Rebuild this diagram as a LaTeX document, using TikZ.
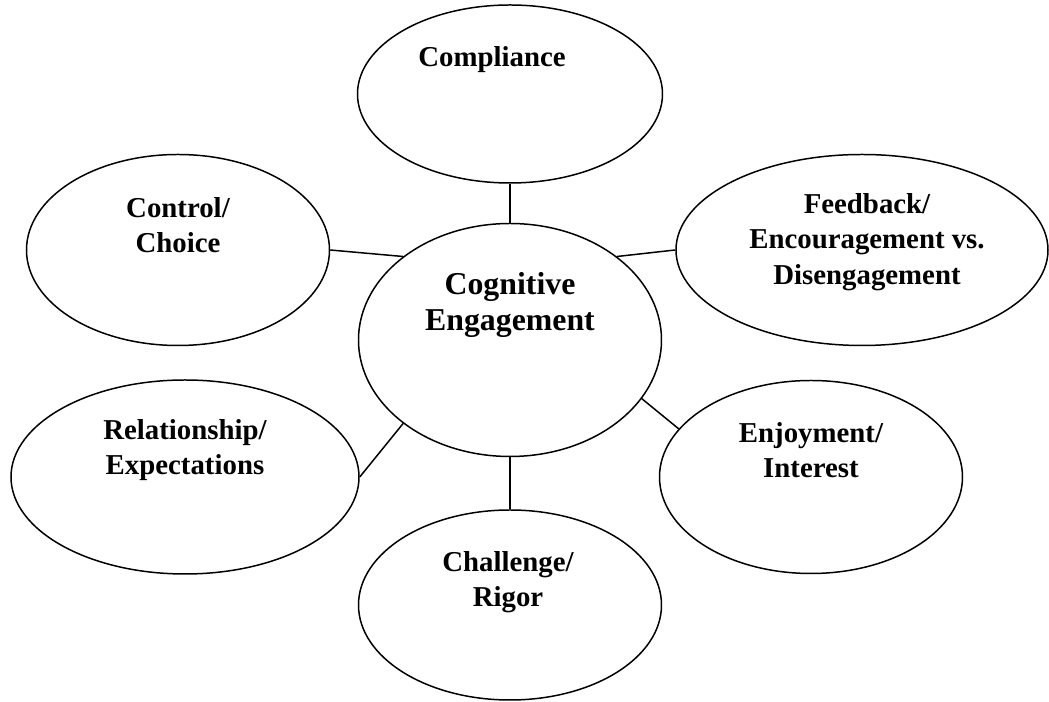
\documentclass[tikz,border=0pt]{standalone}
\usepackage{fontspec}
\setmainfont{Liberation Serif}
\usetikzlibrary{shapes.geometric}

\begin{document}
\begin{tikzpicture}[line width=0.85pt,
  every node/.style={font=\bfseries\fontsize{16.4}{20.1}\selectfont},
  bubble/.style={draw, ellipse, inner sep=0pt, minimum width=60.6mm, minimum height=38.2mm},
  txt/.style={align=center, inner sep=0pt}]
\useasboundingbox (-10.2,-7.24) rectangle (10.78,6.8);
% hub and the six factors round it
\node[bubble, minimum height=46.6mm] (cog) at (0,0) {};
\node[bubble, minimum width=61mm, minimum height=35.6mm] (cmp) at (0,4.92) {};
\node[bubble] (ctl) at (-6.64,1.8) {};
\node[bubble, minimum width=74.4mm] (fb) at (7.04,1.8) {};
\node[bubble, minimum width=69.6mm, minimum height=38.8mm] (rel) at (-6.5,-2.74) {};
\node[bubble, minimum height=38.6mm] (enj) at (6.02,-2.74) {};
\node[bubble, minimum height=38mm] (chal) at (0,-5.3) {};
% texts sit above the middle of each bubble
\node[txt, font=\bfseries\fontsize{18.1}{20.4}\selectfont] (cog-t) at ([yshift=7mm]cog) {Cognitive\\Engagement};
\node[txt] (cmp-t) at ([xshift=-3.6mm, yshift=6.8mm]cmp) {Compliance};
\node[txt] (ctl-t) at ([yshift=5mm]ctl) {Control/\\Choice};
\node[txt] (fb-t) at ([xshift=1mm, yshift=1.6mm]fb) {Feedback/\\Encouragement vs.\\Disengagement};
\node[txt] (rel-t) at ([yshift=5.4mm]rel) {Relationship/\\Expectations};
\node[txt] (enj-t) at ([yshift=5.4mm]enj) {Enjoyment/\\Interest};
\node[txt] (chal-t) at ([xshift=-0.4mm, yshift=4.6mm]chal) {Challenge/\\Rigor};
% spokes
\draw (cmp) -- (cog);
\draw (ctl.east) -- (cog.142);
\draw (fb.west) -- (cog.38);
\draw (rel.east) -- (cog.218);
\draw (enj.160) -- (cog.336);
\draw (cog) -- (chal);
\end{tikzpicture}
\end{document}
